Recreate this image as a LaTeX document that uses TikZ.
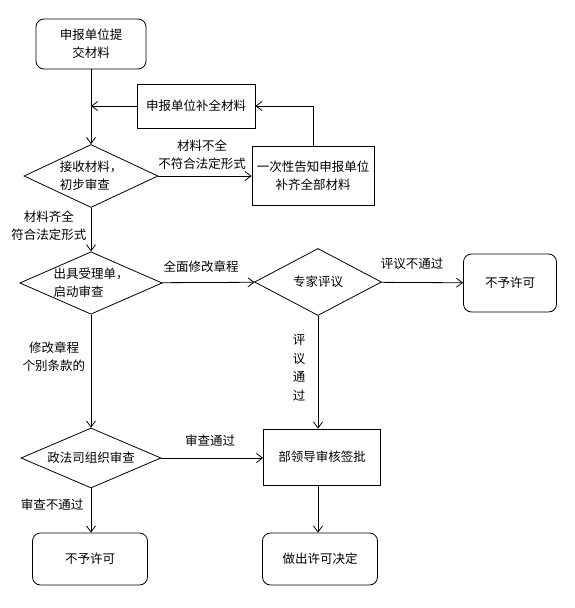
\documentclass[tikz,border=0pt]{standalone}
\usepackage{fontspec}
\setmainfont{Noto Sans CJK SC}
\usetikzlibrary{arrows.meta, shapes.geometric}
\tikzset{
  stepbox/.style={draw, line width=0.8pt, inner sep=0pt, align=center},
  endbox/.style={stepbox, rounded corners=8pt},
  decide/.style={draw, diamond, line width=0.8pt, inner sep=0pt, align=left},
  wire/.style={-{Straight Barb[length=6pt,width=9pt]}, line width=0.8pt},
  lbl/.style={inner sep=0pt, align=center}
}

\begin{document}
\begin{tikzpicture}[x=1pt, y=-1pt, font=\fontsize{12.5}{18}\selectfont]
        \useasboundingbox (0,0) rectangle (575,608);
        % left column
        \node[endbox, minimum width=110pt, minimum height=50pt] (start) at (91,44) {申报单位提\\交材料};
        \node[decide, minimum width=134pt, minimum height=63pt, aspect=2.13] (recv) at (91,176) {接收材料，\\初步审查};
        \node[decide, minimum width=139pt, minimum height=61pt, aspect=2.28] (accept) at (91,283) {出具受理单，\\启动审查};
        \node[decide, minimum width=140pt, minimum height=60pt, aspect=2.33] (legal) at (91,458) {政法司组织审查};
        \node[endbox, minimum width=115pt, minimum height=52pt] (denyl) at (90,559) {不予许可};
        % right side
        \node[stepbox, minimum width=118pt, minimum height=44pt] (supp) at (196,106) {申报单位补全材料};
        \node[stepbox, minimum width=122pt, minimum height=59pt] (notify) at (313,176) {一次性告知申报单位\\补齐全部材料};
        \node[decide, minimum width=127pt, minimum height=67pt, aspect=1.9] (expert) at (318,282) {专家评议};
        \node[endbox, minimum width=93pt, minimum height=58pt] (denyr) at (510,283) {不予许可};
        \node[stepbox, minimum width=117pt, minimum height=56pt] (sign) at (322,457) {部领导审核签批};
        \node[endbox, minimum width=115pt, minimum height=52pt] (grant) at (320,559) {做出许可决定};
        \coordinate (join) at (91,106);
        % connectors
        \draw[wire] (start) -- (recv);
        \draw[wire] (supp) -- (join);
        \draw[wire] (recv) -- (notify);
        \draw[wire] (notify.north) |- (supp.east);
        \draw[wire] (recv) -- (accept);
        \draw[wire] (accept) -- (expert);
        \draw[wire] (expert) -- (denyr);
        \draw[wire] (accept) -- (legal);
        \draw[wire] (expert.south) -- (expert.south |- sign.north);
        \draw[wire] (legal) -- (sign.west |- legal.east);
        \draw[wire] (legal.south) -- (legal.south |- denyl.north);
        \draw[wire] (sign.south -| expert.south) -- (grant.north -| expert.south);
        % labels
        \node[lbl] (lnot) at (202,155) {材料不全\\不符合法定形式};
        \node[lbl] (lok) at (49,226) {材料齐全\\符合法定形式};
        \node[lbl] (lall) at (201,267) {全面修改章程};
        \node[lbl] (lrej) at (412,264) {评议不通过};
        \node[lbl] (lpart) at (54,357) {修改章程\\个别条款的};
        \node[lbl, font=\fontsize{12.5}{18.5}\selectfont] (lpass) at (299,368) {评\\议\\通\\过};
        \node[lbl] (lchk) at (210,441) {审查通过};
        \node[lbl] (lfail) at (52,505) {审查不通过};
      \end{tikzpicture}
\end{document}
